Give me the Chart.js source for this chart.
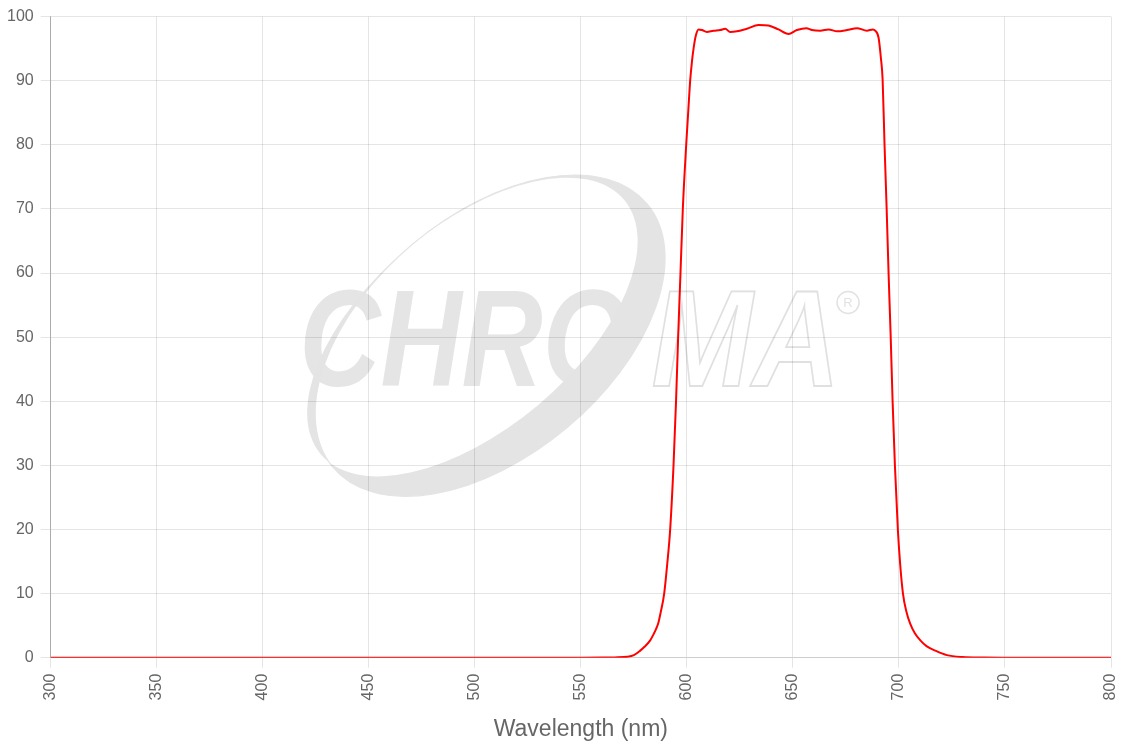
<!DOCTYPE html>
<html>
<head>
<meta charset="utf-8">
<script src="https://cdn.jsdelivr.net/npm/chart.js@4.4.1/dist/chart.umd.min.js"></script>
<style>
body { margin: 0; background: #fff; }
</style>
</head>
<body>
<canvas id="mycanvas" width="1138" height="750"></canvas>
<script>
// spectrum (nm, % transmission)
var wavelength = [300, 400, 500, 550, 560, 566, 572, 575, 578, 580, 582.7, 584.5, 585.5, 586.6, 587.6, 589.3, 590.7, 592.1,
	593.7, 594.9, 595.9, 597.0, 598.1, 599.7, 600.7, 601.6, 602.4, 603.1, 604.2, 605.5, 607.1, 609.4, 612.5,
	615.7, 618.1, 620.4, 623.6, 628.3, 633.8, 638.5, 643.2, 647.9, 651.9, 656.3, 659.0, 662.9, 666.8, 670.8,
	675.5, 680.2, 684.9, 687.7, 688.8, 690.4, 691.5, 692.3, 693.2, 694.2, 695.1, 696.1, 697.0, 698.1, 699.5,
	700.6, 701.9, 703.5, 705.3, 707.5, 710.1, 713, 717.2, 722.6, 730, 740, 750, 800];
var transmission = [0, 0, 0, 0, 0.02, 0.05, 0.15, 0.4, 1.1, 1.7, 2.7, 3.8, 4.5, 5.5, 7.0, 10.0, 14.5, 19.9,
	30.0, 40.1, 50.2, 60.1, 70.1, 80.1, 85.5, 90.2, 93.0, 94.9, 97.0, 98.0, 97.9, 97.6, 97.8,
	97.9, 98.1, 97.6, 97.7, 98.1, 98.7, 98.6, 98.0, 97.3, 97.9, 98.2, 97.9, 97.8, 98.0, 97.7,
	97.9, 98.2, 97.8, 98.0, 97.8, 96.7, 93.5, 90.2, 80.1, 70.1, 60.1, 50.2, 40.1, 30.0, 19.9,
	14.5, 10.0, 7.2, 5.3, 3.8, 2.7, 1.8, 1.1, 0.4, 0.1, 0.02, 0, 0];
var xTicks = [300, 350, 400, 450, 500, 550, 600, 650, 700, 750, 800];
var yTicks = [0, 10, 20, 30, 40, 50, 60, 70, 80, 90, 100];

var points = [];
for (var i = 0; i < wavelength.length; i++) {
	points.push({x: wavelength[i], y: transmission[i]});
}

// grey logo behind the grid
var watermark = {
	id: 'watermark',
	beforeDraw: function(chart) {
		var ctx = chart.ctx;
		var a = chart.chartArea;
		var w = a.right - a.left, h = a.bottom - a.top;
		function px(f) { return a.left + f * w; }
		function py(f) { return a.top + f * h; }

		ctx.save();
		ctx.translate(px(0.2345), py(0.576));
		ctx.scale(0.82, 1);
		ctx.font = 'italic bold 137px "Liberation Sans"';
		ctx.fillStyle = '#e5e5e5';
		ctx.fillText('CHRO', 0, 0);
		var cw = ctx.measureText('CHRO').width;
		ctx.scale(1.08, 1);
		ctx.strokeStyle = '#e0e0e0';
		ctx.lineWidth = 1.8;
		ctx.strokeText('MA', (cw + 26) / 1.08, 0);
		ctx.restore();

		ctx.save();
		ctx.strokeStyle = '#e2e2e2';
		ctx.fillStyle = '#e2e2e2';
		ctx.lineWidth = 1.5;
		ctx.beginPath();
		ctx.arc(px(0.752), py(0.446), 11, 0, 2 * Math.PI);
		ctx.stroke();
		ctx.font = '13px "Liberation Sans"';
		ctx.textAlign = 'center';
		ctx.textBaseline = 'middle';
		ctx.fillText('R', px(0.752), py(0.446) + 1);
		ctx.restore();

		ctx.save();
		ctx.translate(px(0.4144), py(0.4977));
		ctx.rotate(-40 * Math.PI / 180);
		ctx.fillStyle = '#e4e4e4';
		ctx.beginPath();
		ctx.ellipse(0, 0, 205, 120, 0, 0, 2 * Math.PI);
		ctx.moveTo(-8 + 198, -18);
		ctx.ellipse(-8, -18, 198, 102, 0, 0, 2 * Math.PI);
		ctx.fill('evenodd');
		ctx.strokeStyle = '#e4e4e4';
		ctx.lineWidth = 1.2;
		ctx.beginPath();
		ctx.ellipse(0, 0, 205, 120, 0, 0, 2 * Math.PI);
		ctx.stroke();
		ctx.restore();
	}
};

Chart.defaults.font.family = '"Liberation Sans", Arial, sans-serif';

var ctx = document.getElementById('mycanvas');
var chart = new Chart(ctx, {
	type: 'line',
	data: {
		datasets: [{
			data: points,
			borderColor: 'rgb(255, 0, 0)',
			borderWidth: 2,
			pointRadius: 0,
			fill: false,
			cubicInterpolationMode: 'monotone'
		}]
	},
	options: {
		responsive: false,
		animation: false,
		layout: { padding: { left: 0, right: 27, top: 4, bottom: 3 } },
		plugins: {
			legend: { display: false },
			tooltip: { enabled: false }
		},
		scales: {
			x: {
				type: 'linear',
				min: 300,
				max: 800,
				afterBuildTicks: function(axis) {
					axis.ticks = xTicks.map(function(v) { return {value: v}; });
				},
				ticks: { minRotation: 90, maxRotation: 90, padding: 6, color: '#666', font: { size: 16 } },
				grid: { color: 'rgba(0,0,0,0.1)', tickLength: 10 },
				border: { color: 'rgba(0,0,0,0.1)' },
				title: {
					display: true,
					text: 'Wavelength (nm)',
					color: '#666',
					font: { size: 23 },
					padding: { top: 9, bottom: 4 }
				}
			},
			y: {
				min: 0,
				max: 100,
				afterBuildTicks: function(axis) {
					axis.ticks = yTicks.map(function(v) { return {value: v}; });
				},
				ticks: { padding: 7, color: '#666', font: { size: 16 } },
				grid: { color: 'rgba(0,0,0,0.1)', tickLength: 10 },
				border: { color: 'rgba(0,0,0,0.25)' }
			}
		}
	},
	plugins: [watermark]
});
</script>
</body>
</html>
